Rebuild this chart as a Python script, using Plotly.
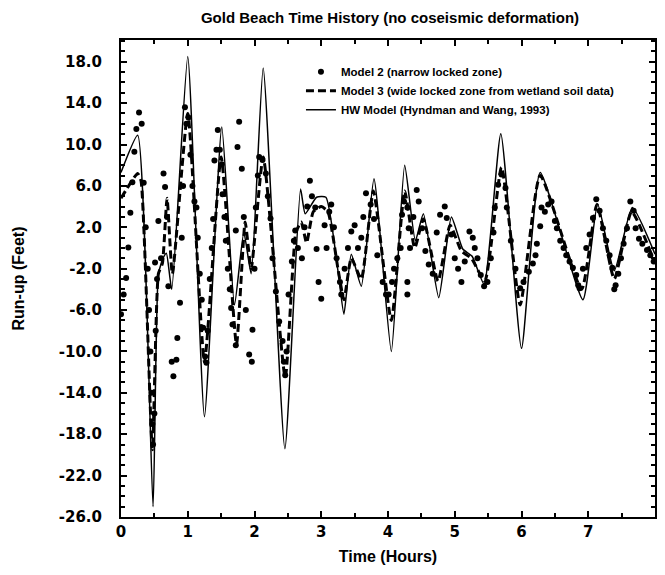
import plotly.graph_objects as go

# HW Model (Hyndman and Wang, 1993) - solid line
hw_t = [0.0, 0.25, 0.48, 0.56, 0.63, 0.68, 0.76, 1.0, 1.25, 1.51, 1.70, 1.84, 1.95,
        2.13, 2.455, 2.69, 2.76, 2.93, 3.07, 3.25, 3.34, 3.45, 3.60, 3.79, 4.05, 4.25,
        4.41, 4.53, 4.76, 4.95, 5.12, 5.26, 5.44, 5.69, 6.0, 6.28, 6.92, 7.14, 7.39,
        7.66, 8.0]
hw_v = [7.3, 10.9, -25.0, -2.5, -1.0, -0.5, -4.0, 18.5, -16.3, 11.7, -5.5, 1.5, -2.5,
        17.4, -19.4, 5.7, 3.3, 4.9, 4.9, -2.2, -6.4, -0.6, -3.7, 6.7, -10.0, 8.0,
        0.7, 3.3, -4.8, 3.0, -0.1, -0.8, -3.5, 11.05, -9.7, 7.3, -5.0, 4.25, -2.2,
        3.9, -0.6]

# Model 3 (wide locked zone from wetland soil data) - dashed line
m3_t = [0.0, 0.25, 0.30, 0.47, 0.56, 0.62, 0.69, 0.77, 1.0, 1.25, 1.5, 1.73, 1.86,
        1.95, 2.13, 2.46, 2.62, 2.70, 2.78, 2.88, 3.0, 3.1, 3.25, 3.34, 3.45, 3.60,
        3.78, 4.05, 4.25, 4.40, 4.53, 4.75, 4.93, 5.10, 5.25, 5.45, 5.70, 5.98, 6.28,
        6.90, 7.13, 7.39, 7.65, 8.0]
m3_v = [4.8, 7.2, 6.5, -19.5, -2.5, -1.5, 4.8, -2.5, 13.0, -11.0, 8.8, -9.3, 2.5,
        -2.0, 8.8, -12.5, 1.5, 2.5, 0.5, 3.5, 4.0, 3.5, -2.0, -5.0, -1.0, -3.0,
        5.5, -7.0, 5.5, 0.0, 2.8, -3.2, 2.2, -0.3, -1.0, -3.2, 7.8, -5.5, 7.0,
        -4.0, 4.2, -3.0, 3.5, -1.5]

# Model 2 (narrow locked zone) - dots
m2_t = [0.00, 0.04, 0.077, 0.11, 0.14, 0.17, 0.20, 0.23, 0.27, 0.31, 0.34, 0.37, 0.40,
        0.42, 0.44, 0.46, 0.47, 0.48, 0.50, 0.52, 0.54, 0.51, 0.56, 0.60, 0.637, 0.66,
        0.69, 0.71, 0.76, 0.785, 0.83, 0.844, 0.884, 0.91, 0.93, 0.958, 0.98, 1.01,
        1.04, 1.07, 1.10, 1.13, 1.15, 1.18, 1.21, 1.23, 1.26, 1.28, 1.30, 1.33, 1.36,
        1.38, 1.40, 1.43, 1.45, 1.48, 1.51, 1.52, 1.55, 1.57, 1.60, 1.63, 1.65, 1.67,
        1.72, 1.72, 1.745, 1.77, 1.81, 1.84, 1.87, 1.92, 1.96, 1.97, 2.00, 2.02, 2.05,
        2.07, 2.12, 2.17, 2.20, 2.24, 2.27, 2.32, 2.37, 2.42, 2.44, 2.46, 2.48, 2.51,
        2.56, 2.59, 2.61, 2.65, 2.71, 2.75, 2.79, 2.83, 2.86, 2.91, 2.93, 2.96, 3.00,
        3.05, 3.08, 3.12, 3.15, 3.19, 3.23, 3.28, 3.30, 3.35, 3.40, 3.45, 3.50, 3.55,
        3.60, 3.63, 3.67, 3.74, 3.79, 3.84, 3.92, 3.97, 4.01, 4.06, 4.09, 4.14, 4.19,
        4.21, 4.24, 4.29, 4.29, 4.29, 4.31, 4.33, 4.38, 4.43, 4.46, 4.51, 4.56, 4.61,
        4.67, 4.73, 4.78, 4.85, 4.88, 4.95, 5.00, 5.05, 5.10, 5.15, 5.22, 5.27, 5.30,
        5.34, 5.39, 5.44, 5.49, 5.54, 5.58, 5.60, 5.65, 5.70, 5.76, 5.78, 5.84, 5.91,
        5.98, 6.03, 6.11, 6.17, 6.21, 6.23, 6.28, 6.30, 6.35, 6.40, 6.45, 6.50, 6.53,
        6.58, 6.63, 6.67, 6.72, 6.77, 6.82, 6.85, 6.87, 6.92, 6.97, 7.02, 7.07, 7.12,
        7.17, 7.22, 7.27, 7.32, 7.36, 7.39, 7.41, 7.45, 7.49, 7.53, 7.58, 7.63, 7.68,
        7.71, 7.76, 7.81, 7.88, 7.93, 7.98]
m2_v = [-6.4, -4.5, -2.9, 0.05, 3.4, 6.35, 9.3, 11.5, 13.1, 12.0, 6.3, 2.0, -2.0,
        -6.0, -10.0, -14.0, -17.0, -19.0, -16.0, -8.0, -3.0, -1.4, 2.6, -1.0, 7.2, 5.9,
        3.0, -3.7, -11.0, -12.4, -10.8, -8.7, -5.3, 1.0, 6.0, 13.6, 12.0, 12.6,
        9.0, 6.0, 4.5, 3.9, 1.0, -2.5, -5.0, -7.7, -10.5, -11.1, -8.0, -3.0, 0.0,
        2.8, 8.45, 9.5, 11.4, 9.5, 8.1, 5.2, 3.0, 0.7, -2.0, -4.0, -5.8, -7.4,
        -9.4, 1.7, 9.75, 12.2, 7.65, 3.0, -6.0, -10.3, -11.0, -7.9, -2.0, 3.9, 7.0,
        8.8, 8.5, 7.2, 5.0, 2.85, -1.0, -4.2, -7.1, -9.0, -11.0, -12.3, -10.0, -4.5,
        -1.3, 0.7, 1.7, 0.0, -1.0, 2.0, 4.0, 6.5, 5.0, 3.9, -0.1, -3.3, -4.9,
        2.2, 0.0, 3.5, 4.2, 2.0, -1.0, -3.3, -4.5, -2.0, 0.0, 1.6, 2.2, 0.0,
        1.0, 3.0, 5.3, 4.2, 2.8, -0.7, -3.3, -4.5, -4.5, -3.3, -2.0, -1.0, 0.0,
        3.2, 4.5, 3.9, -3.3, -4.5, 1.9, 0.0, 3.0, 5.6, 4.5, 1.9, -0.3, -1.6,
        -2.5, 1.5, 3.2, 4.0, 2.9, 1.3, -1.0, -2.0, -3.3, -1.3, 1.6, 1.0, 0.0,
        -1.0, -2.6, -3.7, -3.3, -1.0, 1.5, 3.9, 6.1, 7.1, 5.8, 3.9, 0.7, -2.0,
        -3.9, -3.3, -2.3, -1.5, -0.7, 0.4, 2.1, 3.9, 3.5, 4.2, 4.5, 2.6, 1.9,
        0.7, 0.0, -0.7, -1.3, -1.9, -2.6, -3.6, -3.9, -2.0, 0.0, 1.3, 2.9, 4.7,
        3.6, 1.9, 0.7, -0.7, -1.9, -4.0, -3.6, -2.5, -1.0, 0.4, 1.9, 4.5, 3.6,
        1.9, 0.9, 0.4, -0.2, -0.7, -1.3]

y_ticks = [18, 14, 10, 6, 2, -2, -6, -10, -14, -18, -22, -26]
y_tick_text = ["18.0", "14.0", "10.0", "6.0", "2.0", "-2.0", "-6.0", "-10.0",
               "-14.0", "-18.0", "-22.0", "-26.0"]
x_ticks = [0, 1, 2, 3, 4, 5, 6, 7, 8]
x_tick_text = ["0", "1", "2", "3", "4", "5", "6", "7", "8"]

fig = go.Figure()
fig.add_trace(go.Scatter(
    x=hw_t, y=hw_v, mode="lines", name="HW Model (Hyndman and Wang, 1993)",
    line=dict(color="black", width=1.5, shape="spline", smoothing=0.5),
    legendrank=3))
fig.add_trace(go.Scatter(
    x=m3_t, y=m3_v, mode="lines",
    name="Model 3 (wide locked zone from wetland soil data)",
    line=dict(color="black", width=3, dash="8px,4px", shape="spline", smoothing=0.5),
    legendrank=2))
fig.add_trace(go.Scatter(
    x=m2_t, y=m2_v, mode="markers", name="Model 2 (narrow locked zone)",
    marker=dict(color="black", size=6), legendrank=1))

tickfont = dict(family="DejaVu Sans", size=15, color="black", weight="bold")
axis_common = dict(showline=True, linecolor="black", linewidth=2, mirror="allticks",
                   ticks="inside", tickcolor="black", tickwidth=1.5, ticklen=6,
                   showgrid=False, zeroline=False, tickfont=tickfont,
                   automargin=False)

W, H = 649, 559
fig.update_layout(
    width=W, height=H,
    margin=dict(l=113, r=2, t=32, b=50),
    paper_bgcolor="white", plot_bgcolor="white",
    title=dict(text="Gold Beach Time History (no coseismic deformation)",
               x=382 / W, xanchor="center", xref="container",
               y=1 - 10 / H, yanchor="middle", yref="container",
               font=dict(family="Liberation Sans", size=15, color="black", weight="bold")),
    xaxis=dict(range=[0, 8], tickvals=x_ticks, ticktext=x_tick_text,
               minor=dict(dtick=0.5, ticks="inside", ticklen=4, tickcolor="black"),
               title=dict(text="Time (Hours)", standoff=11,
                          font=dict(family="Liberation Sans", size=16, color="black",
                                    weight="bold")),
               **axis_common),
    yaxis=dict(range=[-26, 20.1], tickvals=y_ticks, ticktext=y_tick_text,
               minor=dict(dtick=1, ticks="inside", ticklen=4, tickcolor="black"),
               ticklabelstandoff=14,
               title=dict(text="Run-up (Feet)", standoff=30,
                          font=dict(family="Liberation Sans", size=16, color="black",
                                    weight="bold")),
               **axis_common),
    legend=dict(x=0.337, xanchor="left", y=0.964, yanchor="top",
                bgcolor="rgba(0,0,0,0)", borderwidth=0, tracegroupgap=0,
                font=dict(family="Liberation Sans", size=11.5, color="black",
                          weight="bold")),
    showlegend=True,
)

fig.write_html("out.html")
